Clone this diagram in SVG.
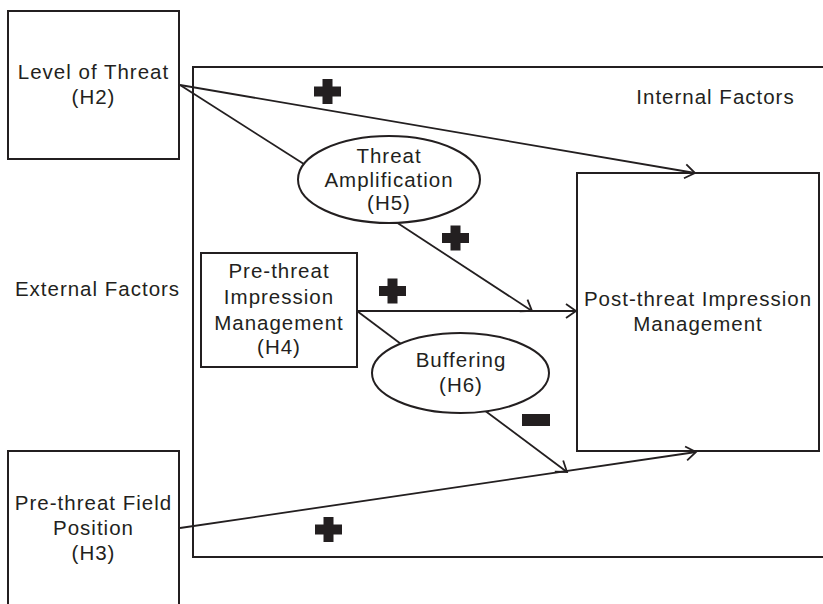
<svg xmlns="http://www.w3.org/2000/svg" width="823" height="604" viewBox="0 0 823 604">
<style>
  .box { fill: none; stroke: #231f20; stroke-width: 2; }
  .oval { fill: #ffffff; stroke: #231f20; stroke-width: 2; }
  .conn { fill: none; stroke: #231f20; stroke-width: 1.8; }
  .lbl { font-family: "Liberation Sans", Arial, Helvetica, sans-serif; font-size: 20.5px; letter-spacing: 1px; fill: #231f20; text-anchor: middle; }
  .sign { fill: #231f20; }
</style>
<defs>
  <marker id="arrow" markerUnits="userSpaceOnUse" markerWidth="24" markerHeight="24" refX="12" refY="12" orient="auto" viewBox="0 0 24 24">
    <path d="M2,5 L12,12 L2,19" fill="none" stroke="#231f20" stroke-width="1.8"/>
  </marker>
  <path id="plus" d="M-5,-12.5 H5 V-5 H13.5 V5 H5 V12.5 H-5 V5 H-13.5 V-5 H-5 Z"/>
</defs>
<rect width="823" height="604" fill="#ffffff"/>

<g id="internal-factors">
  <rect class="box" x="193" y="67" width="640" height="490"/>
  <text class="lbl" x="715.5" y="104">Internal Factors</text>
</g>

<g id="external-factors">
  <text class="lbl" x="97.5" y="296">External Factors</text>
</g>

<g id="connectors">
  <line class="conn" x1="180" y1="85" x2="695" y2="173" marker-end="url(#arrow)"/>
  <line class="conn" x1="180" y1="85" x2="307" y2="166"/>
  <line class="conn" x1="396" y1="222" x2="532" y2="311" marker-end="url(#arrow)"/>
  <line class="conn" x1="357" y1="311" x2="576" y2="311" marker-end="url(#arrow)"/>
  <line class="conn" x1="357" y1="311" x2="405" y2="347"/>
  <line class="conn" x1="484" y1="410" x2="567" y2="472" marker-end="url(#arrow)"/>
  <line class="conn" x1="180" y1="528" x2="696" y2="452" marker-end="url(#arrow)"/>
  <use class="sign" href="#plus" x="327.5" y="91.5"/>
  <use class="sign" href="#plus" x="455.5" y="238"/>
  <use class="sign" href="#plus" x="392.5" y="291"/>
  <use class="sign" href="#plus" x="328.5" y="529.5"/>
  <rect class="sign" x="522" y="414" width="28" height="12"/>
</g>

<g id="level-of-threat">
  <rect class="box" x="8" y="11" width="171" height="148"/>
  <text class="lbl" x="93.5" y="79">Level of Threat</text>
  <text class="lbl" x="93.5" y="104">(H2)</text>
</g>

<g id="threat-amplification">
  <ellipse class="oval" cx="389" cy="179.5" rx="91" ry="43.5"/>
  <text class="lbl" x="389" y="163">Threat</text>
  <text class="lbl" x="389" y="187">Amplification</text>
  <text class="lbl" x="389" y="210">(H5)</text>
</g>

<g id="pre-threat-impression-management">
  <rect class="box" x="201" y="253" width="156" height="114"/>
  <text class="lbl" x="279" y="278">Pre-threat</text>
  <text class="lbl" x="279" y="304">Impression</text>
  <text class="lbl" x="279" y="330">Management</text>
  <text class="lbl" x="279" y="354">(H4)</text>
</g>

<g id="buffering">
  <ellipse class="oval" cx="460.5" cy="373" rx="88.5" ry="40"/>
  <text class="lbl" x="461" y="367">Buffering</text>
  <text class="lbl" x="461" y="392">(H6)</text>
</g>

<g id="post-threat-impression-management">
  <rect class="box" x="577" y="173" width="242" height="278"/>
  <text class="lbl" x="698" y="306">Post-threat Impression</text>
  <text class="lbl" x="698" y="331">Management</text>
</g>

<g id="pre-threat-field-position">
  <rect class="box" x="8" y="451" width="171" height="170"/>
  <text class="lbl" x="93.5" y="510">Pre-threat Field</text>
  <text class="lbl" x="93.5" y="535">Position</text>
  <text class="lbl" x="93.5" y="560">(H3)</text>
</g>
</svg>
